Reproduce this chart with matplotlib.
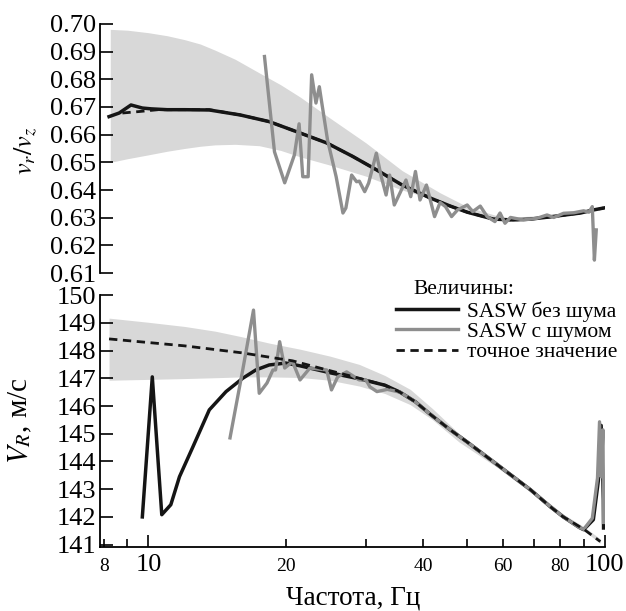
import matplotlib
matplotlib.use("Agg")
import matplotlib.pyplot as plt
from matplotlib.ticker import FixedLocator, FixedFormatter

plt.rcParams["font.family"] = ["Liberation Serif", "DejaVu Serif"]
plt.rcParams["mathtext.fontset"] = "stix"

# ------------------------------------------------------------------
# top panel: v_r / v_z
# ------------------------------------------------------------------
f_band_top = [8.25, 9, 10, 11, 12, 13, 14, 15.5, 17.5, 19.5, 21.5, 25, 30, 36, 43.6, 50, 60, 80, 100]
band_top_hi = [0.698, 0.6977, 0.6968, 0.6957, 0.6943, 0.6927, 0.6905, 0.6872, 0.6823, 0.6780,
               0.6736, 0.6660, 0.6570, 0.6470, 0.6390, 0.6340, 0.6300, 0.6312, 0.6338]
band_top_lo = [0.650, 0.6513, 0.6527, 0.6540, 0.6550, 0.6558, 0.6563, 0.6565, 0.6560, 0.6543,
               0.6520, 0.6490, 0.6450, 0.6400, 0.6360, 0.6330, 0.6290, 0.6305, 0.6332]

f_clean_top = [8.2, 8.63, 9.16, 9.7, 10.15, 11, 12, 13.6, 15.9, 18.4, 21.5, 24.6, 28, 31.7, 36,
               41.5, 45.9, 50, 57, 63, 68.8, 75, 82, 88.6, 94.5, 99.5]
clean_top = [0.6665, 0.6678, 0.6707, 0.6696, 0.6693, 0.6690, 0.6690, 0.6689, 0.6671, 0.6647, 0.6606,
             0.6570, 0.6522, 0.6472, 0.6418, 0.6371, 0.6342, 0.6320, 0.6295, 0.6292, 0.6295, 0.6302,
             0.6310, 0.6317, 0.6328, 0.6335]

f_exact_top = [8.77, 9.5, 10.5, 13.6, 15.9, 18.4, 21.5, 24.6, 28, 31.7, 36, 41.5, 45.9, 50, 57, 63,
               68.8, 75, 82, 88.6, 94.5, 99.5]
exact_top = [0.6678, 0.6683, 0.6690, 0.6690, 0.6671, 0.6647, 0.6606, 0.6570, 0.6522, 0.6472, 0.6418,
             0.6371, 0.6342, 0.6320, 0.6295, 0.6292, 0.6295, 0.6302, 0.6310, 0.6317, 0.6328, 0.6335]

f_noisy_top = [17.97, 18.9, 19.9, 20.6, 20.9, 21.4, 21.8, 22.4, 22.8, 23.3, 23.7, 24.0, 24.7, 25.8,
               26.7, 27.1, 27.9, 28.6, 29.0, 29.8, 30.4, 31.6, 32.4, 33.2, 33.8, 34.6, 35.6, 36.7,
               37.6, 38.5, 39.4, 40.7, 41.5, 42.4, 43.6, 44.8, 46.2, 47.6, 50.0, 51.4, 53.4, 55.3,
               57.5, 59.0, 60.5, 62.2, 66.4, 71.1, 74.8, 77.4, 81.3, 85.6, 90.0, 92.4, 94.0, 95.0, 95.9]
noisy_top = [0.6882, 0.6538, 0.6426, 0.6497, 0.6527, 0.6639, 0.6448, 0.6448, 0.6816, 0.6714, 0.6773,
             0.6714, 0.6581, 0.6448, 0.6317, 0.6335, 0.6454, 0.6430, 0.6432, 0.6394, 0.6425, 0.6533,
             0.6448, 0.6382, 0.6454, 0.6346, 0.6389, 0.6436, 0.6376, 0.6467, 0.6364, 0.6418, 0.6364,
             0.6304, 0.6355, 0.6340, 0.6304, 0.6328, 0.6346, 0.6322, 0.6342, 0.6304, 0.6286, 0.6317,
             0.6280, 0.6301, 0.6292, 0.6298, 0.6310, 0.6301, 0.6316, 0.6318, 0.6325, 0.6320, 0.6340,
             0.6147, 0.6256]

# ------------------------------------------------------------------
# bottom panel: V_R
# ------------------------------------------------------------------
f_band_bot = [8.2, 10, 12, 14, 16, 18.4, 21.5, 25, 29, 33, 37.5, 42, 48, 58, 70, 81.2, 90, 98]
band_bot_hi = [149.17, 149.02, 148.87, 148.70, 148.50, 148.27, 148.05, 147.80, 147.50, 147.10,
               146.60, 145.90, 145.00, 144.00, 142.95, 142.10, 141.65, 141.20]
band_bot_lo = [146.93, 146.96, 146.99, 147.02, 147.05, 147.05, 147.03, 146.93, 146.72, 146.45,
               146.05, 145.50, 144.70, 143.80, 142.80, 141.95, 141.50, 141.05]

f_exact_bot = [8.2, 12, 16, 20.7, 24, 29, 33, 35.6, 38.5, 41.5, 45.9, 50, 58, 68.8, 76, 81.2, 90, 97.9]
exact_bot = [148.42, 148.17, 147.92, 147.63, 147.35, 147.00, 146.75, 146.50, 146.15, 145.70,
             145.14, 144.70, 143.90, 142.98, 142.37, 142.00, 141.56, 141.11]

f_clean_bot = [9.7, 10.2, 10.7, 11.2, 11.7, 12.5, 13.6, 14.8, 16.1, 17.2, 18.4, 20.0, 21.5, 25, 29,
               33, 35.6, 38.5, 41.5, 45.9, 50, 58, 68.8, 76, 81.2, 88, 90, 94.5, 96.9, 98.3, 99.4, 99.5]
clean_bot = [142.00, 147.05, 142.08, 142.44, 143.45, 144.50, 145.86, 146.52, 147.00, 147.30, 147.48,
             147.55, 147.45, 147.20, 146.98, 146.75, 146.50, 146.15, 145.70, 145.14, 144.70, 143.90,
             142.98, 142.37, 142.00, 141.62, 141.54, 141.90, 143.30, 145.30, 142.60, 141.60]

f_noisy_bot = [15.1, 16.1, 17.0, 17.5, 18.2, 18.75, 19.0, 19.4, 19.9, 20.7, 21.5, 22.6, 24.6, 25.2,
               26.0, 27.2, 29.0, 30.0, 30.6, 31.7, 33.4, 35.6, 38.5, 41.5, 45.9, 50, 58, 68.8, 76,
               81.2, 88, 90, 94.0, 96.5, 97.5, 98.3, 99.2, 99.5]
noisy_bot = [144.85, 147.30, 149.46, 146.46, 146.83, 147.30, 147.30, 148.32, 147.37, 147.60, 146.94,
             147.37, 147.30, 146.58, 147.05, 147.23, 146.94, 146.94, 146.69, 146.52, 146.60, 146.50,
             146.15, 145.70, 145.14, 144.70, 143.90, 142.98, 142.37, 142.00, 141.62, 141.55, 141.95,
             143.40, 145.43, 143.45, 145.14, 141.80]

x_major = [10, 100]
x_minor = [8, 9, 20, 30, 40, 50, 60, 70, 80, 90]
x_minor_labels = ["8", "", "20", "", "40", "", "60", "", "80", ""]
yt_top = [0.61, 0.62, 0.63, 0.64, 0.65, 0.66, 0.67, 0.68, 0.69, 0.70]
yt_bot = [141, 142, 143, 144, 145, 146, 147, 148, 149, 150]

BAND = "#d8d8d8"
GREY = "#8e8e8e"
DARK = "#151515"

fig = plt.figure(figsize=(6.26, 6.11), dpi=100)
ax1 = fig.add_axes([0.16, 0.553, 0.807, 0.408])
ax2 = fig.add_axes([0.16, 0.105, 0.807, 0.412])

for ax in (ax1, ax2):
    ax.set_xscale("log")
    ax.set_xlim(7.84, 100.4)
    for s in ("top", "right"):
        ax.spines[s].set_visible(False)
    ax.spines["left"].set_linewidth(1.3)
    ax.spines["bottom"].set_linewidth(1.3)
    ax.tick_params(axis="y", direction="in", length=9, width=1.2, labelsize=19, pad=3)

# top
ax1.fill_between(f_band_top, band_top_lo, band_top_hi, color=BAND, lw=0)
ax1.plot(f_exact_top, exact_top, color=DARK, lw=2.0, ls=(0, (3, 2)))
ax1.plot(f_clean_top, clean_top, color=DARK, lw=2.5)
ax1.plot(f_noisy_top, noisy_top, color=GREY, lw=2.4)
ax1.set_ylim(0.61, 0.70)
ax1.set_yticks(yt_top)
ax1.set_yticklabels([f"{v:.2f}" for v in yt_top])
ax1.spines["bottom"].set_visible(False)
ax1.tick_params(axis="x", which="both", bottom=False, labelbottom=False)
ax1.set_ylabel(r"$v_r/v_z$", fontsize=19)
ax1.yaxis.set_label_coords(-0.122, 0.49)

# bottom
ax2.fill_between(f_band_bot, band_bot_lo, band_bot_hi, color=BAND, lw=0)
l1, = ax2.plot(f_clean_bot, clean_bot, color=DARK, lw=2.5, label="SASW без шума")
l2, = ax2.plot(f_noisy_bot, noisy_bot, color=GREY, lw=2.4, label="SASW с шумом")
l3, = ax2.plot(f_exact_bot, exact_bot, color=DARK, lw=2.0, ls=(0, (3, 2)), label="точное значение")
ax2.set_ylim(140.92, 150)
ax2.set_yticks(yt_bot)
ax2.set_yticklabels([str(v) for v in yt_bot])
ax2.xaxis.set_major_locator(FixedLocator(x_major))
ax2.xaxis.set_major_formatter(FixedFormatter([str(v) for v in x_major]))
ax2.xaxis.set_minor_locator(FixedLocator(x_minor))
ax2.xaxis.set_minor_formatter(FixedFormatter(x_minor_labels))
ax2.tick_params(axis="x", which="major", direction="in", length=9, width=1.2, labelsize=19, pad=5)
ax2.tick_params(axis="x", which="minor", direction="in", length=6, width=1.2, labelsize=14, pad=8)
ax2.set_ylabel(r"$V_R$, м/с", fontsize=21)
ax2.yaxis.set_label_coords(-0.13, 0.50)
ax2.set_xlabel("Частота, Гц", fontsize=19.5, labelpad=7)

leg = ax2.legend(handles=[l1, l2, l3], loc="upper left", bbox_to_anchor=(0.585, 0.975),
                 frameon=False, fontsize=15.5, handlelength=2.9, handletextpad=0.4,
                 labelspacing=0.0, borderpad=0, borderaxespad=0)
fig.text(0.66, 0.527, "Величины:", fontsize=15.5, ha="left", va="center")

fig.savefig("out.png", dpi=100)
